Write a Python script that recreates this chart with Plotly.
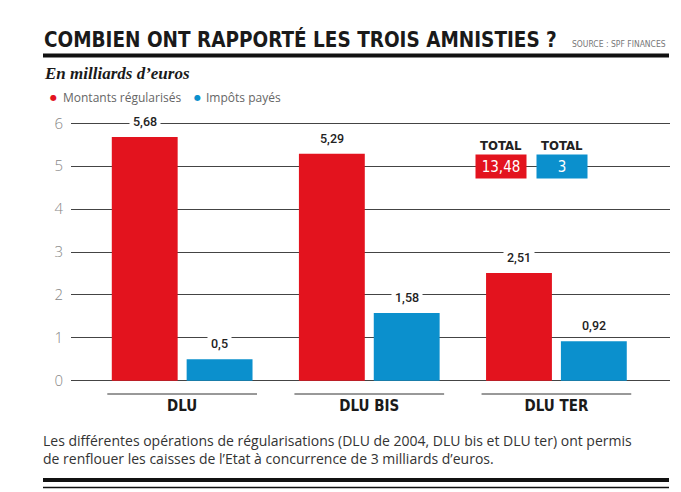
import plotly.graph_objects as go

categories = ["DLU", "DLU BIS", "DLU TER"]
montants = [5.68, 5.29, 2.51]
impots = [0.5, 1.58, 0.92]
montants_labels = ["5,68", "5,29", "2,51"]
impots_labels = ["0,5", "1,58", "0,92"]
total_montants = "13,48"
total_impots = "3"
yticks = [0, 1, 2, 3, 4, 5, 6]

RED = "#e3131e"
BLUE = "#0b90cd"
W, H = 681, 492
L, R, T, B = 71, 11, 119, 107
PW, PH = W - L - R, H - T - B


def px(x):
    return (x - L) / PW


def py(y):
    return (H - B - y) / PH


COND = "DejaVu Sans Condensed, Roboto, sans-serif"

fig = go.Figure()
fig.add_trace(go.Bar(x=categories, y=montants, name="Montants régularisés",
                     marker=dict(color=RED, line=dict(width=0))))
fig.add_trace(go.Bar(x=categories, y=impots, name="Impôts payés",
                     marker=dict(color=BLUE, line=dict(width=0))))
# small triangles under each group
fig.add_trace(go.Scatter(x=categories, y=[-0.26] * len(categories), mode="markers",
                         marker=dict(symbol="triangle-up", size=6, color="#222"),
                         cliponaxis=False, showlegend=False, hoverinfo="skip"))

ann = []
for i, c in enumerate(categories):
    for val, lab, off in ((montants[i], montants_labels[i], -0.2004),
                          (impots[i], impots_labels[i], 0.2004)):
        ann.append(dict(x=i + off, y=val, xref="x", yref="y", text=lab, showarrow=False,
                        xanchor="center", yanchor="bottom", yshift=4, bgcolor="white", borderpad=3,
                        font=dict(family="Roboto, sans-serif", size=12.5, color="#222", weight=500)))

# TOTAL boxes
for xc, txt, col in ((501, total_montants, RED), (562, total_impots, BLUE)):
    ann.append(dict(x=px(xc), y=py(145), xref="paper", yref="paper", text="TOTAL",
                    xanchor="center", yanchor="middle", showarrow=False,
                    font=dict(family=COND, size=13, color="#222", weight="bold")))
    ann.append(dict(x=px(xc), y=py(166), xref="paper", yref="paper", text=txt,
                    xanchor="center", yanchor="middle",
                    showarrow=False, bgcolor=col, width=48, height=21, borderpad=1,
                    font=dict(family=COND, size=15, color="white")))

# Title and texts
ann += [
    dict(x=px(42), y=py(40), xref="paper", yref="paper", xanchor="left", yanchor="middle",
         text="<b>COMBIEN ONT RAPPORTÉ LES TROIS AMNISTIES ?</b>", showarrow=False,
         font=dict(family=COND, size=20.5, color="#1a1a1a")),
    dict(x=px(668), y=py(44), xref="paper", yref="paper", xanchor="right", yanchor="middle",
         text="SOURCE : SPF FINANCES", showarrow=False,
         font=dict(family=COND, size=8.5, color="#777")),
    dict(x=px(42), y=py(73), xref="paper", yref="paper", xanchor="left", yanchor="middle",
         text="<b><i>En milliards d’euros</i></b>", showarrow=False,
         font=dict(family="Liberation Serif, DejaVu Serif, serif", size=17, color="#1a1a1a")),
    dict(x=px(48), y=py(97), xref="paper", yref="paper", xanchor="left", yanchor="middle",
         text="●", showarrow=False, font=dict(family="DejaVu Sans", size=8, color=RED)),
    dict(x=px(61), y=py(97), xref="paper", yref="paper", xanchor="left", yanchor="middle",
         text="Montants régularisés", showarrow=False,
         font=dict(family="Open Sans, sans-serif", size=12, color="#666")),
    dict(x=px(192), y=py(97), xref="paper", yref="paper", xanchor="left", yanchor="middle",
         text="●", showarrow=False, font=dict(family="DejaVu Sans", size=8, color=BLUE)),
    dict(x=px(204), y=py(97), xref="paper", yref="paper", xanchor="left", yanchor="middle",
         text="Impôts payés", showarrow=False,
         font=dict(family="Open Sans, sans-serif", size=12, color="#666")),
    dict(x=px(41), y=py(449), xref="paper", yref="paper", xanchor="left", yanchor="middle",
         align="left",
         text="Les différentes opérations de régularisations (DLU de 2004, DLU bis et DLU ter) ont permis<br>"
              "de renflouer les caisses de l’Etat à concurrence de 3 milliards d’euros.",
         showarrow=False, font=dict(family="Open Sans, sans-serif", size=14, color="#333")),
]

shapes = [
    dict(type="line", xref="paper", yref="paper", x0=px(43), x1=px(669), y0=py(55.5), y1=py(55.5),
         line=dict(color="#111", width=4)),
    dict(type="line", xref="paper", yref="paper", x0=px(43), x1=px(669), y0=py(480), y1=py(480),
         line=dict(color="#111", width=4)),
    dict(type="line", xref="paper", yref="paper", x0=px(43), x1=px(669), y0=py(487.5), y1=py(487.5),
         line=dict(color="#111", width=1.5)),
    # white gap behind TOTAL boxes on the gridline
    dict(type="rect", xref="paper", yref="paper", x0=px(466), x1=px(597), y0=py(158), y1=py(174),
         fillcolor="white", line=dict(width=0), layer="below"),
]
for i, c in enumerate(categories):
    shapes.append(dict(type="line", xref="x", yref="paper", x0=i - 0.4, x1=i + 0.4,
                       y0=py(394), y1=py(394), line=dict(color="#333", width=1)))

fig.update_layout(
    width=W, height=H, margin=dict(l=L, r=R, t=T, b=B),
    paper_bgcolor="white", plot_bgcolor="white",
    barmode="group", bargap=0.2, bargroupgap=0.12, showlegend=False,
    annotations=ann, shapes=shapes,
    xaxis=dict(range=[-0.594, 2.607], showgrid=False, zeroline=False, showline=False,
               ticks="", ticklabelstandoff=10,
               tickfont=dict(family=COND, size=15, color="#1a1a1a", weight="bold")),
    yaxis=dict(range=[-0.1, 6.1], tickvals=yticks, showgrid=True, gridcolor="#444",
               gridwidth=1, zeroline=True, zerolinecolor="#444", zerolinewidth=1,
               showline=False, ticks="", ticklabelstandoff=7,
               tickfont=dict(family="Open Sans, sans-serif", size=15, color="#888", weight=300)),
)

fig.write_html("out.html", config={"displayModeBar": False},
               post_script="document.body.style.margin='0';")
